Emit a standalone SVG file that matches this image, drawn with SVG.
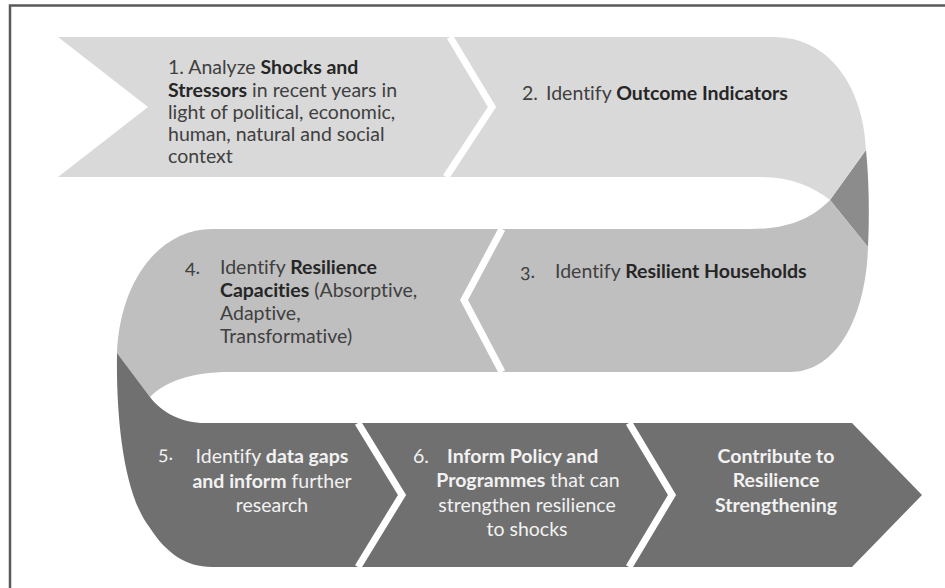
<svg xmlns="http://www.w3.org/2000/svg" width="945" height="588" viewBox="0 0 945 588">
<style>
text{font-family:Lato,"Liberation Sans",sans-serif;font-size:19.5px;font-variant-ligatures:none}
.dk{fill:#404040}
.dk .b{fill:#262626}
.lt{fill:#f2f2f2}
.b{font-weight:bold}
.num{font-variant-numeric:oldstyle-nums}
.sep{fill:none;stroke:#ffffff;stroke-width:7;stroke-linejoin:miter}
</style>
<rect x="10" y="5.5" width="940" height="600" fill="#ffffff" stroke="#5a5a5a" stroke-width="2.5"/>
<g id="connectors">
<path d="M866,150 L830,200 L868,247 C869.5,215 869,180 866,150 Z" fill="#8c8c8c"/>
</g>
<g id="band-top">
<path d="M58,37 L773,37 C835,37 864,95 866,150 L830,200 C812,186 790,177 760,177 L58,177 L148,107 Z" fill="#d9d9d9"/>
<path class="sep" d="M450,37 L492,107 L446,177"/>
</g>
<g id="band-mid">
<path d="M830,200 L868,247 C866,315 838,372 790,372 L230,372 C190,372 165,382 150,397 L117,353 C120,280 160,229 212,229 L750,229 C790,229 812,218 830,200 Z" fill="#bfbfbf"/>
<path class="sep" d="M502,229 L464,300 L502,372"/>
</g>
<g id="band-bottom">
<path d="M150,397 L117,353 C116,420 124,495 150,528 C166,553 186,567 212,567 L852,567 L922,495 L852,423 L205,423 C182,423 162,413 150,397 Z" fill="#707070"/>
<path class="sep" d="M358,423 L402,495 L358,567"/>
<path class="sep" d="M629,423 L672,495 L629,567"/>
</g>
<g id="step1" class="dk">
<text x="168" y="74">1. Analyze <tspan class="b">Shocks and</tspan></text>
<text x="168" y="97"><tspan class="b">Stressors</tspan> in recent years in</text>
<text x="168" y="119">light of political, economic,</text>
<text x="168" y="141">human, natural and social</text>
<text x="168" y="163">context</text>
</g>
<g id="step2" class="dk">
<text x="522" y="100">2.</text>
<text x="546" y="100">Identify <tspan class="b">Outcome Indicators</tspan></text>
</g>
<g id="step3" class="dk">
<text x="520" y="278" class="num">3.</text>
<text x="555" y="278">Identify <tspan class="b">Resilient Households</tspan></text>
</g>
<g id="step4" class="dk">
<text x="185" y="274" class="num">4.</text>
<text x="220" y="274">Identify <tspan class="b">Resilience</tspan></text>
<text x="220" y="297"><tspan class="b">Capacities</tspan> (Absorptive,</text>
<text x="220" y="320">Adaptive,</text>
<text x="220" y="343">Transformative)</text>
</g>
<g id="step5" class="lt">
<text x="158" y="460" class="num">5.</text>
<text x="272" y="463" text-anchor="middle">Identify <tspan class="b">data gaps</tspan></text>
<text x="272" y="488" text-anchor="middle"><tspan class="b">and inform</tspan> further</text>
<text x="272" y="512" text-anchor="middle">research</text>
</g>
<g id="step6" class="lt">
<text x="413" y="463">6.</text>
<text x="447" y="463" class="b">Inform Policy and</text>
<text x="528" y="487" text-anchor="middle"><tspan class="b">Programmes</tspan> that can</text>
<text x="527" y="512" text-anchor="middle">strengthen resilience</text>
<text x="527" y="536" text-anchor="middle">to shocks</text>
</g>
<g id="step7" class="lt">
<text x="776" y="463" text-anchor="middle" class="b">Contribute to</text>
<text x="776" y="487" text-anchor="middle" class="b">Resilience</text>
<text x="776" y="512" text-anchor="middle" class="b">Strengthening</text>
</g>
</svg>
